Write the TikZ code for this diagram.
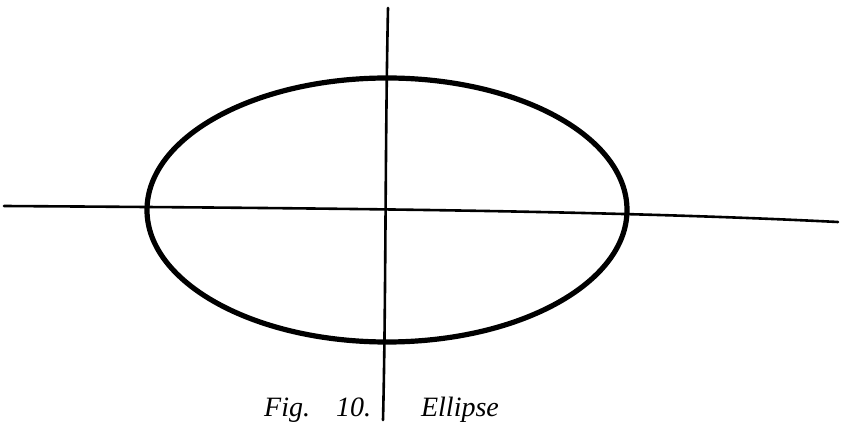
\documentclass[tikz,border=0pt]{standalone}
\usepackage{fontspec}
\setmainfont{Liberation Serif}
\begin{document}
\begin{tikzpicture}[x=1pt,y=-1pt,
  axisline/.style={line width=2.6pt,line cap=round,black},
  curveline/.style={line width=5.2pt,black},
  captiontext/.style={font=\itshape\fontsize{28}{28}\selectfont,anchor=base west,inner sep=0pt}]
\useasboundingbox (0,0) rectangle (852,422);
\fill[white] (0,0) rectangle (852,422);
% ellipse
\draw[curveline] (387,210) ellipse [x radius=240, y radius=132];
% horizontal axis
\coordinate (hl) at (4,206);
\coordinate (hr) at (838,222);
\draw[axisline] (hl) .. controls (300,208) and (600,210) .. (hr);
% vertical axis
\coordinate (vt) at (388,8);
\coordinate (vb) at (383,420);
\draw[axisline] (vt) .. controls (385,150) and (386,300) .. (vb);
% caption
\node[captiontext] (cap) at (264,416) {Fig.\hspace{26pt}10.\hspace{50pt}Ellipse};
\end{tikzpicture}
\end{document}
